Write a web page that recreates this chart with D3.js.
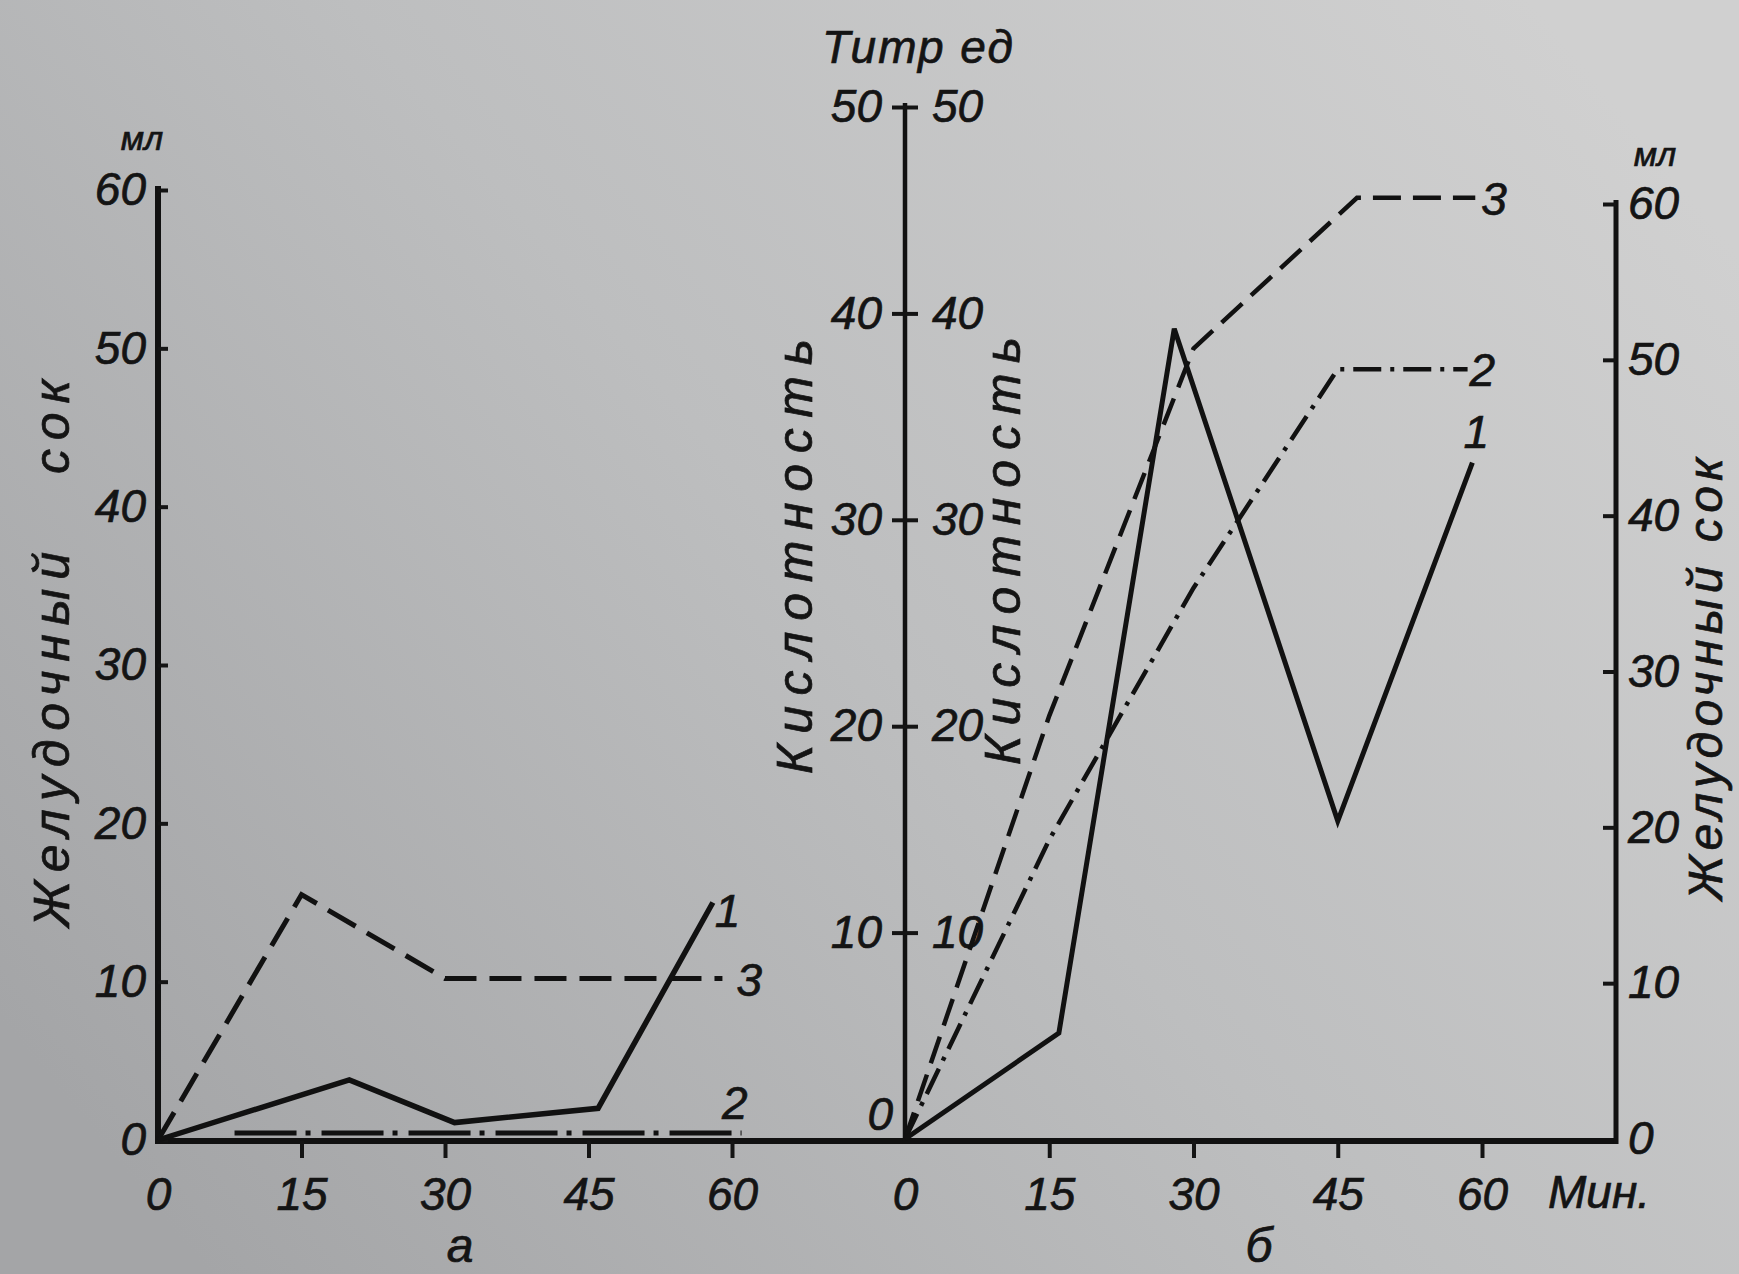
<!DOCTYPE html>
<html>
<head>
<meta charset="utf-8">
<script src="https://cdn.jsdelivr.net/npm/d3@7"></script>
<style>
body { margin: 0; background: #c0c0c0; }
svg { display: block; }
text { font-family: "Liberation Sans", Arial, sans-serif; font-style: italic; fill: #141414; stroke: #141414; stroke-width: 0.7px; }
</style>
</head>
<body>
<div id="plot"></div>
<script>
// two panels: a (juice only) and б (acidity + juice)

const FRAME_WIDTH = 1739;
const FRAME_HEIGHT = 1274;

// panel a, minutes / ml
const minutes_a1 = [0, 20, 31, 46, 58];
const juice_a1 = [0, 3.8, 1.1, 2, 15];
const minutes_a2 = [8, 61];
const juice_a2 = [0.45, 0.45];
const minutes_a3 = [0, 15, 30, 59];
const juice_a3 = [0, 15.5, 10.2, 10.2];

// panel б
const minutes_b1 = [0, 16, 28, 45, 59];
const juice_b1 = [0, 6.8, 52, 20.4, 43.4];
const minutes_b2 = [0, 15, 30, 45, 58.5];
const acid_b2 = [0, 14.5, 26.7, 37.3, 37.3];
const minutes_b3 = [0, 15, 30, 47, 59.3];
const acid_b3 = [0, 20.5, 38.3, 45.6, 45.6];

const time_ticks = [0, 15, 30, 45, 60];
const ml_ticks = [0, 10, 20, 30, 40, 50, 60];
const acid_ticks = [0, 10, 20, 30, 40, 50];
const acid_ticks_inner = [10, 20, 30, 40, 50];

const BASE_Y = 1141;

// scales
const xA = d3.scaleLinear().domain([0, 60]).range([158, 732]);
const yA = d3.scaleLinear().domain([0, 60]).range([1140, 190]);
const xB = d3.scaleLinear().domain([0, 60]).range([905, 1482]);
const yAcid = d3.scaleLinear().domain([0, 50]).range([1139, 107]);
const yMl = d3.scaleLinear().domain([0, 60]).range([1139, 204]);
const B_RIGHT_AXIS = 1616;

const FRAME1 = d3.select("#plot")
	.append("svg")
		.attr("width", FRAME_WIDTH)
		.attr("height", FRAME_HEIGHT);

// scanned-paper background
const grad = FRAME1.append("defs").append("linearGradient")
	.attr("id", "paper")
	.attr("x1", 0).attr("y1", 0.8).attr("x2", 1).attr("y2", 0.2);
grad.append("stop").attr("offset", 0).attr("stop-color", "#a4a5a7");
grad.append("stop").attr("offset", 0.5).attr("stop-color", "#bdbebf");
grad.append("stop").attr("offset", 1).attr("stop-color", "#d0d0d0");

FRAME1.append("rect")
	.attr("width", FRAME_WIDTH)
	.attr("height", FRAME_HEIGHT)
	.attr("fill", "url(#paper)");

function style_axis(g, size) {
	g.attr("font-family", null).attr("font-size", size).attr("color", "#141414");
	g.select(".domain").remove();
	g.selectAll(".tick line").attr("stroke-width", 4);
}

// ---- axes lines ----
FRAME1.append("line")   // common x-axis
	.attr("x1", xA(0) - 3).attr("y1", BASE_Y)
	.attr("x2", B_RIGHT_AXIS + 2).attr("y2", BASE_Y)
	.attr("stroke", "#111").attr("stroke-width", 6);

FRAME1.append("line")
	.attr("x1", xA(0)).attr("y1", yA(60) - 4)
	.attr("x2", xA(0)).attr("y2", BASE_Y)
	.attr("stroke", "#111").attr("stroke-width", 6);

FRAME1.append("line")
	.attr("x1", xB(0)).attr("y1", yAcid(50) - 4)
	.attr("x2", xB(0)).attr("y2", BASE_Y)
	.attr("stroke", "#111").attr("stroke-width", 4.5);

FRAME1.append("line")
	.attr("x1", B_RIGHT_AXIS).attr("y1", yMl(60) - 4)
	.attr("x2", B_RIGHT_AXIS).attr("y2", BASE_Y + 3)
	.attr("stroke", "#111").attr("stroke-width", 5);

// ---- ticks ----
FRAME1.append("g")
	.attr("transform", "translate(" + xA(0) + ",0)")
	.call(d3.axisLeft(yA).tickValues(ml_ticks).tickSize(-10).tickPadding(12))
	.call(g => style_axis(g, 46));

FRAME1.append("g")
	.attr("transform", "translate(" + xB(0) + ",0)")
	.call(d3.axisLeft(yAcid).tickValues(acid_ticks).tickSize(13).tickPadding(10))
	.call(g => style_axis(g, 46))
	.call(g => g.selectAll(".tick").filter(d => d == 0).select("text")
		.attr("x", -12).attr("dy", "-0.2em"))
	.call(g => g.selectAll(".tick").filter(d => d == 0).select("line").remove());

FRAME1.append("g")
	.attr("transform", "translate(" + xB(0) + ",0)")
	.call(d3.axisRight(yAcid).tickValues(acid_ticks_inner).tickSize(13).tickPadding(14))
	.call(g => style_axis(g, 46));

FRAME1.append("g")
	.attr("transform", "translate(" + B_RIGHT_AXIS + ",0)")
	.call(d3.axisRight(yMl).tickValues(ml_ticks).tickSize(-13).tickPadding(12))
	.call(g => style_axis(g, 46))
	.call(g => g.selectAll(".tick").filter(d => d == 0).select("line").remove());

FRAME1.append("g")
	.attr("transform", "translate(0," + BASE_Y + ")")
	.call(d3.axisBottom(xA).tickValues(time_ticks).tickSize(17).tickPadding(19))
	.call(g => style_axis(g, 46))
	.call(g => g.selectAll(".tick").filter(d => d == 0).select("line").remove());

FRAME1.append("g")
	.attr("transform", "translate(0," + BASE_Y + ")")
	.call(d3.axisBottom(xB).tickValues(time_ticks).tickSize(17).tickPadding(19))
	.call(g => style_axis(g, 46))
	.call(g => g.selectAll(".tick").filter(d => d == 0).select("line").remove());

// ---- series ----
function add_series(xs, ys, xScale, yScale, width, dash) {
	const pts = xs.map((t, i) => [xScale(t), yScale(ys[i])]);
	FRAME1.append("path")
		.attr("d", d3.line()(pts))
		.attr("fill", "none")
		.attr("stroke", "#111")
		.attr("stroke-width", width)
		.attr("stroke-linejoin", "miter")
		.attr("stroke-dasharray", dash);
}

add_series(minutes_a3, juice_a3, xA, yA, 5, "32 13");
add_series(minutes_a2, juice_a2, xA, yA, 5, "62 9 5 11");
add_series(minutes_a1, juice_a1, xA, yA, 5.5, null);

add_series(minutes_b3, acid_b3, xB, yAcid, 4.5, "28 12");
add_series(minutes_b2, acid_b2, xB, yAcid, 4.5, "28 9 4 9");
add_series(minutes_b1, juice_b1, xB, yMl, 5, null);

// series numbers
function add_label(txt, x, y) {
	FRAME1.append("text").attr("x", x).attr("y", y)
		.attr("font-size", 46).text(txt);
}
add_label("1", xA(58) + 2, yA(15) + 24);
add_label("3", xA(59) + 14, yA(10.2) + 17);
add_label("2", xA(60) - 10, yA(0.45) - 14);
add_label("3", xB(59.3) + 6, yAcid(45.6) + 17);
add_label("2", xB(58.5) + 2, yAcid(37.3) + 17);
add_label("1", xB(59) - 9, yMl(43.4) - 15);

// ---- titles ----
function add_text(txt, x, y, size) {
	return FRAME1.append("text").attr("x", x).attr("y", y)
		.attr("font-size", size).text(txt);
}
add_text("мл", 142, 150, 34).attr("text-anchor", "middle");
add_text("мл", 1655, 166, 34).attr("text-anchor", "middle");
add_text("Титр ед", 822, 63, 46).attr("letter-spacing", 2);
add_text("Мин.", 1548, 1208, 46);
add_text("a", 460, 1262, 48).attr("text-anchor", "middle");
add_text("б", 1259, 1262, 48).attr("text-anchor", "middle");

function add_vtext(txt, x, yStart, len, size) {
	FRAME1.append("text")
		.attr("transform", "translate(" + x + "," + yStart + ") rotate(-90)")
		.attr("font-size", size)
		.attr("textLength", len)
		.attr("lengthAdjust", "spacing")
		.text(txt);
}
add_vtext("Желудочный", 69, 927, 375, 50);
add_vtext("сок", 69, 474, 94, 50);
add_vtext("Кислотность", 812, 774, 435, 50);
add_vtext("Кислотность", 1020, 765, 428, 50);
add_vtext("Желудочный сок", 1722, 900, 442, 48);
</script>
</body>
</html>
